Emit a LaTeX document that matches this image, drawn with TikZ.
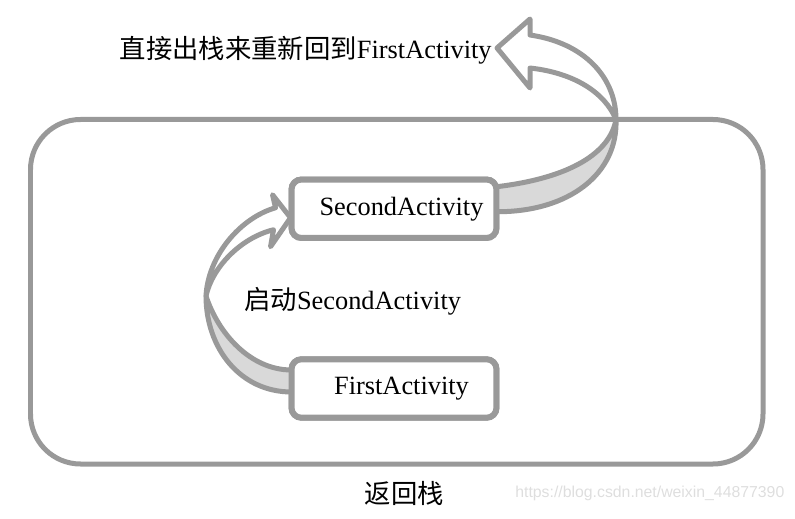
\documentclass[tikz,border=0pt]{standalone}
\usepackage{fontspec}
\setmainfont{Liberation Serif}
\newfontfamily\cjk{Noto Sans CJK SC}
\newfontfamily\wmfont{Liberation Sans}
\usetikzlibrary{calc}

\begin{document}
\begin{tikzpicture}[x=0.02cm,y=0.02cm,
  frameline/.style={draw=\linegray, line width=0.1cm, rounded corners=1cm},
  actbox/.style={draw=\linegray, fill=white, line width=0.12cm, rounded corners=0.2cm,
    minimum width=4.1cm, minimum height=1.17cm, outer sep=0pt, font=\fontsize{15}{18}\selectfont},
  ribbon/.style={draw=\linegray, line width=0.1cm, line join=round},
  lbl/.style={inner sep=0pt, font=\fontsize{15}{18}\selectfont}]
  \def\linegray{black!40}
  \def\bandgray{black!15}
  \useasboundingbox (0,0) rectangle (795,518);

  % --- BACK STACK FRAME ---
  \draw[frameline] (30.5,54) rectangle (763,398.5);
  \node[lbl] (stacklbl) at (404.5,25) {\cjk 返回栈};
  \node[inner sep=0pt, anchor=west, font=\wmfont\fontsize{9}{11}\selectfont, text=black!13] (wmark) at (515,25) {https://blog.csdn.net/weixin\_44877390};

  % --- ACTIVITIES ---
  \node[actbox] (second) at (394,309.25) {\hspace*{0.3cm}SecondActivity};
  \node[actbox] (first)  at (394,129.5)  {\hspace*{0.3cm}FirstActivity};

  % --- START ARROW: first -> second ---
  \coordinate (lt)  at ($(second.west)+(-1,-9)$);
  \coordinate (ltw) at (206,222);
  \draw[ribbon, fill=\bandgray] (ltw) .. controls (206,170) and (240,126) .. ($(first.west)+(0,-3.5)$)
    -- ($(first.west)+(0,18.5)$) .. controls (250,148) and (218,185) .. (ltw) -- cycle;
  \draw[ribbon, fill=white] (ltw) .. controls (212,250) and (240,280) .. ($(lt)+(-17,-12)$)
    -- ($(lt)+(-20,-29)$) -- (lt) -- ($(lt)+(-18,23)$) -- ($(lt)+(-15,10)$)
    .. controls (240,300) and (208,262) .. (ltw) -- cycle;
  \node[lbl, anchor=west] (startlbl) at (244,217) {{\cjk 启动}SecondActivity};

  % --- POP ARROW: second -> out of the stack ---
  \coordinate (rt)  at (497,470);
  \coordinate (rtw) at (616,398.5);
  \draw[ribbon, fill=\bandgray] (rtw) .. controls (618,345) and (570,306) .. ($(second.east)+(0,-3)$)
    -- ($(second.east)+(0,22)$) .. controls (570,340) and (610,365) .. (rtw) -- cycle;
  \draw[ribbon, fill=white] (rtw) .. controls (616,440) and (585,475) .. ($(rt)+(33,13)$)
    -- ($(rt)+(33,29)$) -- (rt) -- ($(rt)+(33,-40)$) -- ($(rt)+(33,-20)$)
    .. controls (575,445) and (605,425) .. (rtw) -- cycle;
  \node[lbl, anchor=east] (poplbl) at ($(rt)+(-5,-2)$) {{\cjk 直接出栈来重新回到}FirstActivity};

  % boxes on top of the ribbon ends
  \node[actbox] at (second) {\hspace*{0.3cm}SecondActivity};
  \node[actbox] at (first)  {\hspace*{0.3cm}FirstActivity};
\end{tikzpicture}
\end{document}
